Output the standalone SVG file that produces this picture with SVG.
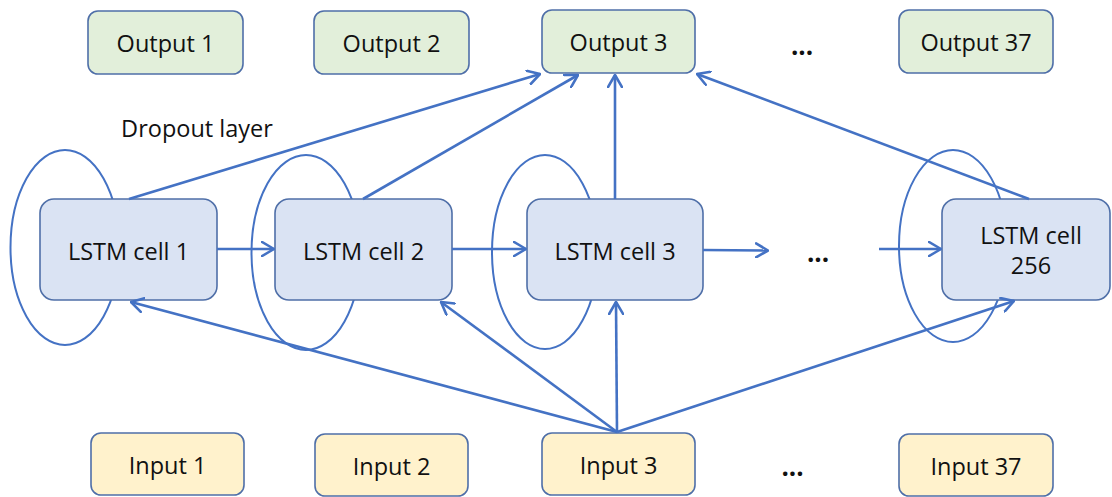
<svg xmlns="http://www.w3.org/2000/svg" width="1112" height="497" viewBox="0 0 1112 497">
  <defs>
    <style>
      .lbl { font-family: "Open Sans", "Liberation Sans", sans-serif; font-size: 23.5px; fill: #111; text-anchor: middle; }
      .dots { font-family: "Open Sans", "Liberation Sans", sans-serif; font-size: 26px; font-weight: bold; fill: #111; text-anchor: middle; }
      .box { stroke: #4F6FA8; stroke-width: 1.6; }
      .out { fill: #E2EFDA; }
      .cell { fill: #DAE3F3; }
      .inp { fill: #FFF2CC; }
      .loop { fill: none; stroke: #4472C4; stroke-width: 2; }
      .edge { fill: none; stroke: #4472C4; stroke-width: 2.6; marker-end: url(#arrow); }
    </style>
    <marker id="arrow" viewBox="0 0 14 16" refX="13" refY="8" markerWidth="14" markerHeight="16" markerUnits="userSpaceOnUse" orient="auto">
      <path d="M1,1 L13,8 L1,15" fill="none" stroke="#4472C4" stroke-width="2.6" stroke-linecap="round" stroke-linejoin="round"/>
    </marker>
  </defs>
  <rect width="1112" height="497" fill="#ffffff"/>

  <!-- output row -->
  <g id="output1"><rect class="box out" x="88" y="11" width="155" height="63" rx="10"/><text class="lbl" x="165.5" y="51.5">Output 1</text></g>
  <g id="output2"><rect class="box out" x="314" y="11" width="155" height="63" rx="10"/><text class="lbl" x="391.5" y="51.5">Output 2</text></g>
  <g id="output3"><rect class="box out" x="542" y="10" width="153" height="63" rx="10"/><text class="lbl" x="618.5" y="50.5">Output 3</text></g>
  <text class="dots" x="802" y="54.5">...</text>
  <g id="output37"><rect class="box out" x="899" y="10" width="154" height="63" rx="10"/><text class="lbl" x="976" y="50.5">Output 37</text></g>

  <text class="lbl" x="197" y="137">Dropout layer</text>

  <!-- LSTM cells with their recurrent dropout loops -->
  <g id="cell1">
    <ellipse class="loop" cx="65" cy="247.5" rx="54.5" ry="97.5"/>
    <rect class="box cell" x="40" y="199" width="177" height="101" rx="14"/>
    <text class="lbl" x="128.5" y="260">LSTM cell 1</text>
  </g>
  <g id="cell2">
    <ellipse class="loop" cx="306" cy="252.5" rx="54.5" ry="97.5"/>
    <rect class="box cell" x="275" y="199" width="177" height="101" rx="14"/>
    <text class="lbl" x="363.5" y="260">LSTM cell 2</text>
  </g>
  <g id="cell3">
    <ellipse class="loop" cx="545" cy="252" rx="53" ry="97"/>
    <rect class="box cell" x="527" y="199" width="176" height="101" rx="14"/>
    <text class="lbl" x="615" y="260">LSTM cell 3</text>
  </g>
  <text class="dots" x="818" y="262">...</text>
  <g id="cell256">
    <ellipse class="loop" cx="953" cy="246" rx="54" ry="96"/>
    <rect class="box cell" x="942" y="199" width="168" height="101" rx="14"/>
    <text class="lbl" x="1031" y="243.5">LSTM cell</text>
    <text class="lbl" x="1031" y="273.5">256</text>
  </g>

  <!-- input row -->
  <g id="input1"><rect class="box inp" x="91" y="433" width="153" height="62" rx="10"/><text class="lbl" x="167.5" y="473.5">Input 1</text></g>
  <g id="input2"><rect class="box inp" x="315" y="434" width="153" height="62" rx="10"/><text class="lbl" x="391.5" y="474.5">Input 2</text></g>
  <g id="input3"><rect class="box inp" x="542" y="433" width="153" height="62" rx="10"/><text class="lbl" x="618.5" y="473.5">Input 3</text></g>
  <text class="dots" x="792.5" y="476">...</text>
  <g id="input37"><rect class="box inp" x="899" y="434" width="154" height="62" rx="10"/><text class="lbl" x="976" y="474.5">Input 37</text></g>

  <!-- connectors -->
  <g id="connectors">
    <line class="edge" x1="129" y1="199" x2="540" y2="74"/>
    <line class="edge" x1="363" y1="199" x2="578" y2="75"/>
    <line class="edge" x1="615" y1="199" x2="615" y2="75"/>
    <line class="edge" x1="1029" y1="199" x2="697" y2="74"/>
    <line class="edge" x1="217" y1="249" x2="274" y2="249"/>
    <line class="edge" x1="452" y1="249" x2="526" y2="249"/>
    <line class="edge" x1="703" y1="250" x2="768" y2="250.5"/>
    <line class="edge" x1="879" y1="249" x2="941" y2="249"/>
    <line class="edge" x1="617" y1="432" x2="131" y2="302"/>
    <line class="edge" x1="617" y1="432" x2="441" y2="302"/>
    <line class="edge" x1="617" y1="432" x2="616" y2="302"/>
    <line class="edge" x1="617" y1="432" x2="1014" y2="301"/>
  </g>
</svg>
